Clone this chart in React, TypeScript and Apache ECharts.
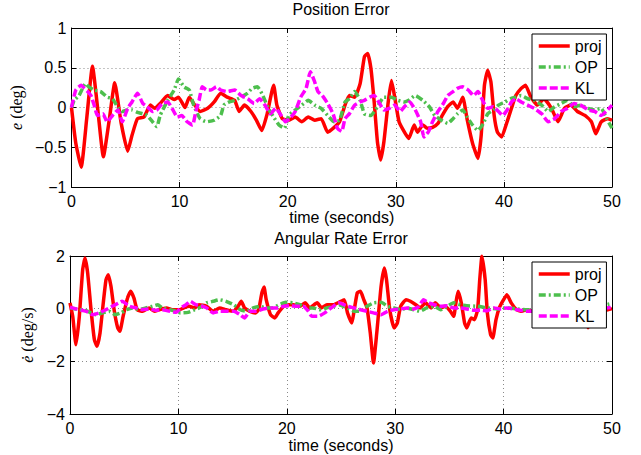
import React, { useEffect, useRef } from 'react';
import * as echarts from 'echarts';

// ---------- data (time in seconds, error value) ----------
const projPos: [number, number][] = [
  [0, 0], [0.4, -0.45], [0.9, -0.75], [1.4, -0.15], [1.94, 0.52], [2.45, -0.05], [2.95, -0.62], [3.5, -0.15],
  [4.0, 0.31], [4.6, -0.2], [5.2, -0.55], [5.6, -0.35], [6.1, -0.14], [6.7, -0.12], [7.3, 0.03], [7.7, -0.01],
  [8.2, 0.05], [8.9, 0.15], [9.5, 0.1], [9.9, 0.13], [10.5, 0.0], [10.9, 0.13], [11.3, 0.05], [11.9, -0.05],
  [12.6, -0.01], [13.2, 0.07], [13.8, 0.18], [14.4, 0.13], [15.1, 0.09], [15.5, -0.05], [16.0, 0.03], [16.6, -0.05],
  [17.1, -0.16], [17.6, -0.29], [18.1, -0.08], [18.7, 0.28], [19.0, 0.03], [19.5, -0.14], [20.1, -0.16], [20.7, -0.12],
  [21.3, -0.18], [21.9, -0.12], [22.5, -0.16], [23.1, -0.14], [23.7, -0.31], [24.3, -0.25], [24.8, -0.18], [25.3, 0.03],
  [25.7, 0.15], [26.2, 0.13], [26.7, 0.3], [27.1, 0.64], [27.4, 0.68], [27.7, 0.49], [28.0, 0.07], [28.3, -0.43],
  [28.6, -0.66], [28.9, -0.43], [29.3, 0.07], [29.6, 0.34], [29.9, 0.13], [30.3, -0.18], [30.8, -0.31], [31.2, -0.39],
  [31.7, -0.22], [32.0, -0.31], [32.5, -0.22], [32.9, -0.26], [33.4, -0.25], [33.9, -0.2], [34.3, -0.1], [34.8, 0.01],
  [35.3, 0.07], [35.7, -0.01], [36.2, 0.13], [36.6, -0.15], [37.1, -0.45], [37.6, -0.64], [37.9, -0.35], [38.2, 0.28],
  [38.5, 0.47], [38.8, 0.32], [39.1, -0.1], [39.4, -0.31], [39.8, -0.37], [40.2, -0.22], [40.7, -0.01], [41.1, 0.15],
  [41.6, 0.24], [42.0, 0.28], [42.5, 0.13], [43.1, 0.03], [43.7, 0.11], [44.4, -0.01], [45.0, -0.18], [45.6, -0.01],
  [46.2, 0.03], [46.8, -0.05], [47.5, -0.1], [48.1, -0.18], [48.5, -0.33], [49.0, -0.18], [49.6, -0.14], [50.0, -0.16],
];

const opPos: [number, number][] = [
  [0, 0], [0.25, 0.09], [0.7, 0.15], [1.3, 0.3], [1.6, 0.26], [2.1, 0.22], [2.7, 0.2], [3.3, 0.13], [3.8, 0.11],
  [4.3, 0], [4.7, -0.05], [5.2, -0.03], [5.6, -0.03], [6.1, -0.06], [6.6, -0.08], [7.0, -0.1], [7.5, -0.18],
  [7.9, -0.24], [8.2, -0.1], [8.9, 0.09], [9.5, 0.22], [9.9, 0.36], [10.4, 0.26], [10.9, 0.22], [11.3, 0.03],
  [11.9, -0.14], [12.5, -0.18], [13.2, -0.16], [13.8, -0.1], [14.1, 0.03], [14.6, 0.07], [15.1, 0.09], [15.7, 0.13],
  [16.3, 0.18], [16.7, 0.24], [17.2, 0.26], [17.7, 0.15], [18.2, -0.01], [18.7, -0.12], [19.2, -0.22], [19.7, -0.26],
  [20.1, -0.1], [20.7, -0.03], [21.3, 0.03], [21.9, 0.09], [22.5, 0.03], [23.1, -0.01], [23.7, -0.1], [24.3, -0.18],
  [24.8, -0.16], [25.3, 0.07], [25.7, 0.11], [26.2, 0.2], [26.7, 0.09], [27.1, -0.08], [27.7, -0.1], [28.3, 0.01],
  [28.9, 0.13], [29.6, 0.13], [30.2, 0.09], [30.8, 0.07], [31.2, 0.09], [31.8, 0.15], [32.5, 0.09], [33.1, 0.01],
  [33.6, -0.1], [34.2, -0.16], [34.8, -0.2], [35.3, -0.14], [35.7, -0.08], [36.2, -0.03], [36.6, -0.12], [37.1, -0.22],
  [37.6, -0.29], [38.1, -0.2], [38.5, -0.08], [39.0, -0.03], [39.5, 0.03], [40.1, 0.07], [40.6, 0.11], [41.1, 0.13],
  [41.6, 0.15], [42.2, 0.11], [42.8, 0.09], [43.5, 0.03], [44.1, -0.05], [44.7, 0.01], [45.3, 0.05], [45.9, 0.09],
  [46.5, 0.01], [47.1, 0.03], [47.8, -0.01], [48.4, -0.03], [49.0, -0.01], [49.5, -0.14], [50.0, -0.26],
];

const klPos: [number, number][] = [
  [0, 0], [0.4, 0.22], [0.9, 0.28], [1.2, 0.24], [1.5, 0.2], [1.8, 0.15], [2.1, 0.03], [2.4, -0.1], [2.9, -0.08],
  [3.3, -0.18], [3.8, -0.1], [4.3, -0.03], [4.7, -0.18], [5.2, -0.01], [5.6, 0.07], [6.1, 0.18], [6.6, 0.05],
  [7.0, 0.01], [7.5, -0.05], [7.9, -0.03], [8.4, 0.05], [8.9, 0.07], [9.3, -0.01], [9.8, -0.12], [10.2, -0.1],
  [10.7, -0.18], [11.2, -0.22], [11.5, -0.05], [11.8, 0.09], [12.1, 0.26], [12.5, 0.22], [12.9, 0.22], [13.4, 0.26],
  [13.8, 0.22], [14.4, 0.2], [15.1, 0.22], [15.7, 0.15], [16.3, 0.11], [16.9, 0.05], [17.4, 0.11], [17.9, 0.03],
  [18.4, -0.08], [18.9, -0.01], [19.4, -0.1], [19.8, -0.18], [20.3, -0.12], [20.7, -0.05], [21.2, 0.13], [21.7, 0.24],
  [22.1, 0.45], [22.5, 0.32], [22.8, 0.2], [23.2, 0.15], [23.7, 0.05], [24.2, -0.08], [24.6, -0.26], [25.0, -0.3],
  [25.3, -0.14], [25.7, -0.08], [26.2, 0.03], [26.7, 0.07], [27.1, 0.09], [27.6, 0.13], [28.0, 0.15], [28.5, 0.05],
  [28.9, -0.03], [29.4, -0.01], [29.9, 0.03], [30.4, -0.05], [30.8, 0.01], [31.3, 0.07], [31.8, -0.03], [32.3, -0.18],
  [32.6, -0.37], [33.0, -0.31], [33.4, -0.18], [33.9, -0.05], [34.4, 0.05], [34.8, 0.15], [35.3, 0.2], [35.7, 0.24],
  [36.2, 0.26], [36.7, 0.22], [37.2, 0.15], [37.6, 0.2], [38.1, 0.07], [38.5, -0.01], [39.0, 0.01], [39.5, -0.05],
  [39.9, -0.1], [40.4, -0.01], [40.7, 0.07], [41.1, 0.11], [41.6, 0.07], [42.2, 0.03], [42.8, -0.01], [43.5, -0.08],
  [44.1, -0.18], [44.7, -0.14], [45.3, -0.05], [45.9, -0.01], [46.5, 0.05], [47.1, 0.03], [47.8, -0.03], [48.4, -0.05],
  [49.0, -0.1], [49.6, -0.03], [50.0, 0.03],
];

const projRate: [number, number][] = [
  [0, 0.22], [0.25, -0.29], [0.55, -1.37], [0.86, -0.29], [1.17, 1.48], [1.38, 1.92], [1.63, 1.35], [1.94, -0.04],
  [2.25, -1.18], [2.49, -1.43], [2.77, -0.92], [3.07, 0.22], [3.32, 1.1], [3.53, 1.29], [3.78, 0.85], [4.09, -0.1],
  [4.4, -0.73], [4.6, -0.86], [4.9, -0.29], [5.3, 0.4], [5.6, 0.66], [5.9, 0.4], [6.2, -0.04], [6.7, -0.1],
  [7.3, 0.03], [7.8, -0.1], [8.2, -0.04], [8.9, 0.03], [9.5, -0.04], [10.1, -0.04], [10.5, 0.03], [11.0, 0.09],
  [11.5, 0.03], [11.9, 0.15], [12.6, 0.09], [13.2, -0.1], [13.8, 0.03], [14.4, -0.04], [15.1, -0.1], [15.5, 0.09],
  [15.8, 0.28], [16.1, 0.03], [16.6, -0.1], [17.1, -0.16], [17.4, -0.04], [17.7, 0.6], [17.9, 0.82], [18.1, 0.34],
  [18.5, -0.23], [18.9, -0.35], [19.2, -0.16], [19.7, 0.09], [20.2, 0.15], [20.6, 0.15], [21.2, 0.09], [21.7, 0.22],
  [22.1, 0.03], [22.8, 0.22], [23.2, 0.03], [23.7, 0.15], [24.3, 0.15], [24.8, 0.24], [25.3, 0.34], [25.6, -0.16],
  [26.0, -0.54], [26.2, -0.1], [26.5, 0.6], [26.8, 0.66], [27.1, 0.34], [27.4, 0.03], [27.7, -0.92], [28.0, -2.06],
  [28.3, -0.92], [28.7, 0.85], [29.0, 1.54], [29.2, 1.1], [29.5, -0.04], [29.9, -0.73], [30.2, -0.54], [30.5, 0.09],
  [31.0, 0.34], [31.4, 0.28], [31.9, 0.15], [32.3, 0.03], [32.8, 0.22], [33.3, 0.03], [33.7, 0.22], [34.2, 0.03],
  [34.6, 0.09], [35.1, -0.1], [35.4, -0.29], [35.6, 0.22], [35.8, 0.66], [36.1, 0.22], [36.4, -0.54], [36.6, -0.73],
  [37.0, -0.35], [37.3, -0.42], [37.6, -0.04], [37.8, 1.1], [38.0, 1.99], [38.3, 1.1], [38.5, -0.16], [38.8, -0.99],
  [39.0, -1.11], [39.3, -0.42], [39.6, 0.03], [40.0, 0.34], [40.3, 0.53], [40.7, 0.22], [41.2, -0.04], [41.6, -0.1],
  [42.1, -0.04], [42.6, -0.1], [43.5, 0.1], [44.5, -0.15], [45.5, 0.2], [46.5, -0.2], [47.3, 0.3], [47.8, -0.72],
  [48.3, 0.3], [49.0, -0.1], [50.0, 0.0],
];

const opRate: [number, number][] = [
  [0, 0.03], [0.86, -0.04], [1.5, -0.08], [2.4, -0.23], [3.0, -0.16], [3.6, -0.1], [4.2, -0.23], [4.7, -0.16],
  [5.2, -0.04], [5.8, 0.03], [6.4, -0.04], [7.0, 0.03], [7.6, 0.09], [8.1, 0.15], [8.5, 0.03], [9.2, -0.04],
  [9.8, -0.1], [10.2, -0.16], [10.9, -0.14], [11.5, -0.04], [12.1, 0.06], [12.6, 0.22], [13.2, 0.28], [13.8, 0.34],
  [14.4, 0.28], [15.1, 0.15], [15.7, -0.04], [16.3, -0.1], [16.9, 0.03], [17.5, 0.09], [18.1, 0.03], [18.7, 0.03],
  [19.3, 0.15], [19.9, 0.24], [20.6, 0.22], [21.2, 0.15], [21.8, 0.03], [22.4, 0.03], [23.1, -0.04], [23.7, 0.03],
  [24.3, 0.09], [24.8, 0.15], [25.6, 0.03], [26.2, -0.1], [26.8, -0.1], [27.4, 0.09], [28.0, 0.22], [28.7, 0.24],
  [29.3, 0.09], [29.9, 0.03], [30.5, -0.04], [31.1, 0.03], [31.7, -0.04], [32.3, -0.1], [32.9, 0.03], [33.6, 0.09],
  [34.2, -0.04], [34.8, 0.09], [35.4, 0.22], [36.0, 0.15], [36.6, 0.11], [37.6, 0.09], [38.5, 0.03], [39.4, -0.01],
  [40.3, 0.03], [41.2, -0.01], [42.2, -0.04], [44.0, 0.0], [46.0, 0.05], [48.0, 0.03], [50.0, 0.2],
];

const klRate: [number, number][] = [
  [0, 0.06], [0.55, -0.01], [1.5, -0.1], [2.1, -0.23], [2.7, -0.16], [3.3, -0.04], [3.9, 0.09], [4.5, 0.22],
  [4.8, 0.28], [5.5, 0.09], [6.1, 0.03], [6.7, -0.04], [7.3, -0.01], [7.9, -0.06], [8.5, -0.04], [9.2, -0.1],
  [9.8, -0.14], [10.2, 0.03], [10.7, 0.15], [11.1, 0.28], [11.6, 0.15], [12.2, 0.09], [12.6, 0.03], [13.2, -0.16],
  [13.8, -0.1], [14.4, -0.1], [15.1, -0.1], [15.7, -0.23], [16.1, -0.35], [16.6, -0.1], [17.2, -0.1], [17.8, -0.01],
  [18.5, 0.03], [19.1, 0.03], [19.7, 0.09], [20.3, 0.11], [20.9, 0.09], [21.5, 0.09], [22.0, -0.1], [22.3, -0.29],
  [22.9, -0.29], [23.5, -0.16], [24.1, 0.03], [24.8, 0.22], [25.6, 0.09], [26.2, 0.03], [26.8, -0.04], [27.4, -0.1],
  [28.0, -0.16], [28.7, -0.23], [29.3, -0.1], [29.9, -0.04], [30.5, -0.01], [31.1, 0.03], [31.7, -0.01], [32.2, 0.09],
  [32.6, 0.34], [33.1, 0.22], [33.6, 0.15], [34.2, 0.09], [34.8, 0.11], [35.4, 0.03], [36.0, 0.03], [36.6, -0.01],
  [37.3, -0.06], [37.9, -0.06], [38.5, -0.08], [39.1, 0.03], [39.7, -0.01], [40.3, 0.03], [41.2, -0.04], [42.2, -0.1],
  [44.0, -0.05], [46.0, 0.0], [48.0, -0.03], [50.0, 0.05],
];

const seriesNames = ['proj', 'OP', 'KL'];
const titles = ['Position Error', 'Angular Rate Error'];
const xLabel = 'time (seconds)';

// ---------- styles ----------
const RED = '#ff0000';
const GREEN = '#4dbf4d';
const MAGENTA = '#ff00ff';
const SANS = '"Liberation Sans", Arial, Helvetica, sans-serif';
const SERIF = '"Liberation Serif", "DejaVu Serif", serif';
const LINE_W = 3.5;
const DASH_OP = [7, 3, 2, 3];
const DASH_KL = [8, 3];

const fmt = (v: number) => String(v).replace('-', '\u2212');

function xAxes(gridIndex: number, nameGap: number) {
  const common = {
    gridIndex,
    type: 'value' as const,
    min: 0,
    max: 50,
    interval: 10,
    axisLine: { show: true, onZero: false, lineStyle: { color: '#000', width: 1 } },
    axisTick: { show: true, inside: true, length: 5, lineStyle: { color: '#000', width: 1 } },
  };
  return [
    {
      ...common,
      position: 'bottom',
      axisLabel: { show: true, color: '#000', fontSize: 16, fontFamily: SANS, margin: 6, formatter: fmt },
      splitLine: { show: true, lineStyle: { color: '#8a8a8a', width: 1, type: [1, 3] } },
      name: xLabel,
      nameLocation: 'middle',
      nameGap,
      nameTextStyle: { color: '#000', fontSize: 16, fontFamily: SANS },
    },
    {
      ...common,
      position: 'top',
      axisLabel: { show: false },
      splitLine: { show: false },
    },
  ];
}

function yAxes(gridIndex: number, min: number, max: number, interval: number, name: string, nameGap: number) {
  const common = {
    gridIndex,
    type: 'value' as const,
    min,
    max,
    interval,
    axisLine: { show: true, onZero: false, lineStyle: { color: '#000', width: 1 } },
    axisTick: { show: true, inside: true, length: 5, lineStyle: { color: '#000', width: 1 } },
  };
  return [
    {
      ...common,
      position: 'left',
      axisLabel: { show: true, color: '#000', fontSize: 16, fontFamily: SANS, margin: 5, formatter: fmt },
      splitLine: { show: true, lineStyle: { color: '#8a8a8a', width: 1, type: [1, 3] } },
      name,
      nameLocation: 'middle',
      nameRotate: 90,
      nameGap,
      nameTextStyle: {
        color: '#000',
        fontSize: 16,
        fontFamily: SERIF,
        rich: { i: { fontStyle: 'italic', fontFamily: SERIF, fontSize: 16, color: '#000' } },
      },
    },
    {
      ...common,
      position: 'right',
      axisLabel: { show: false },
      splitLine: { show: false },
    },
  ];
}

function lineSeries(name: string, data: [number, number][], color: string, dash: any, xi: number, yi: number) {
  return {
    name,
    type: 'line',
    data,
    xAxisIndex: xi,
    yAxisIndex: yi,
    showSymbol: false,
    symbol: 'none',
    smooth: 0.15,
    lineStyle: { color, width: LINE_W, type: dash },
    itemStyle: { color },
    emphasis: { disabled: true },
  };
}

function legend(top: number) {
  return {
    data: seriesNames,
    orient: 'vertical',
    left: 532,
    top,
    backgroundColor: '#fff',
    borderColor: '#000',
    borderWidth: 1,
    borderRadius: 0,
    padding: [4, 5, 4, 5],
    itemGap: 5,
    itemWidth: 31,
    itemHeight: 14,
    selectedMode: false,
    itemStyle: { opacity: 0 },
    lineStyle: { width: 3.5 },
    textStyle: { color: '#000', fontSize: 16, fontFamily: SANS },
  };
}

const option: any = {
  animation: false,
  backgroundColor: '#fff',
  grid: [
    { left: 70, top: 28, width: 542, height: 159 },
    { left: 70, top: 256, width: 542, height: 158 },
  ],
  xAxis: [...xAxes(0, 22), ...xAxes(1, 23)],
  yAxis: [
    ...yAxes(0, -1, 1, 0.5, '{i|e} (deg)', 40),
    ...yAxes(1, -4, 2, 2, '{i|\u0117} (deg/s)', 27),
  ],
  legend: [legend(34), legend(262)],
  graphic: [
    {
      type: 'text',
      x: 341,
      y: 9,
      style: { text: titles[0], align: 'center', verticalAlign: 'middle', fontSize: 16, fontFamily: SANS, fill: '#000' },
    },
    {
      type: 'text',
      x: 341,
      y: 238,
      style: { text: titles[1], align: 'center', verticalAlign: 'middle', fontSize: 16, fontFamily: SANS, fill: '#000' },
    },
  ],
  series: [
    lineSeries(seriesNames[0], projPos, RED, 'solid', 0, 0),
    lineSeries(seriesNames[1], opPos, GREEN, DASH_OP, 0, 0),
    lineSeries(seriesNames[2], klPos, MAGENTA, DASH_KL, 0, 0),
    lineSeries(seriesNames[0], projRate, RED, 'solid', 2, 2),
    lineSeries(seriesNames[1], opRate, GREEN, DASH_OP, 2, 2),
    lineSeries(seriesNames[2], klRate, MAGENTA, DASH_KL, 2, 2),
  ],
};

export default function App() {
  const ref = useRef<HTMLDivElement>(null);
  useEffect(() => {
    if (!ref.current) return;
    const chart = echarts.init(ref.current, null, { renderer: 'svg' });
    chart.setOption(option);
    return () => chart.dispose();
  }, []);
  return (
    <div
      ref={ref}
      style={{ position: 'fixed', left: 0, top: 0, width: 641, height: 455, background: '#fff' }}
    />
  );
}
